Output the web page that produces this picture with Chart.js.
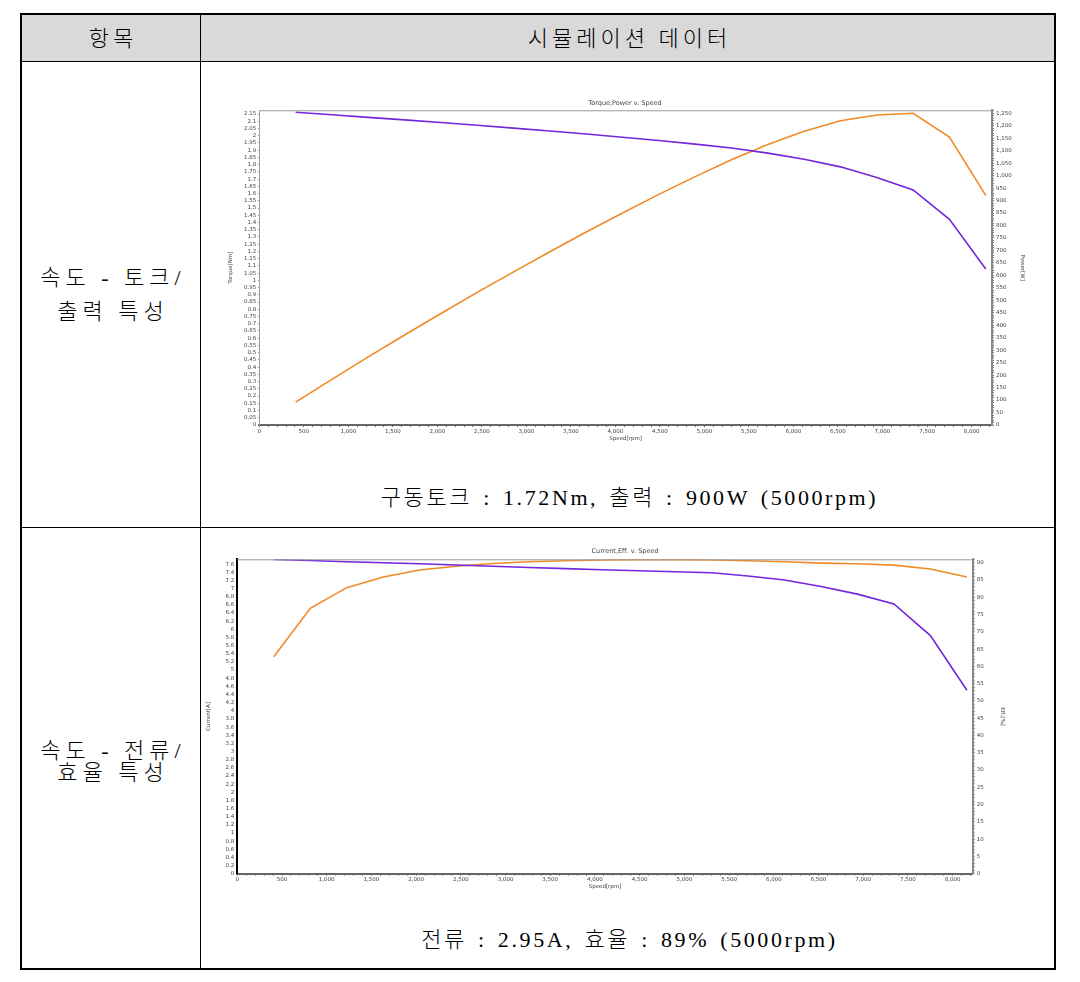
<!DOCTYPE html>
<html>
<head>
<meta charset="utf-8">
<script src="https://cdn.jsdelivr.net/npm/chart.js@4.4.1/dist/chart.umd.min.js"></script>
<style>
  html, body { margin: 0; padding: 0; background: #fff; }
  body { width: 1080px; height: 982px; position: relative; overflow: hidden;
         font-family: "Liberation Serif", "Noto Sans CJK KR", serif; color: #000; }
  .abs { position: absolute; }
  .hline { position: absolute; height: 1px; background: #000; }
  .vline { position: absolute; width: 1px; background: #000; }
  .cell { position: absolute; text-align: center; white-space: nowrap; }
  .kr { font-size: 22px; letter-spacing: 4px; line-height: 1; font-weight: 300; }
  .row { font-size: 22px; letter-spacing: 5px; word-spacing: 0; line-height: 1; font-weight: 300; }
  .cap { font-size: 22px; letter-spacing: 2.6px; word-spacing: 3px; line-height: 1; font-weight: 300; }
  canvas { position: absolute; }
</style>
</head>
<body>
  <!-- table frame -->
  <div class="abs" style="left:22px; top:15px; width:1032px; height:46px; background:#d9d9d9;"></div>
  <div class="abs" style="left:20px; top:13px; width:1036px; height:957px; border:2px solid #000; box-sizing:border-box;"></div>
  <div class="hline" style="left:22px; top:61px; width:1032px;"></div>
  <div class="hline" style="left:22px; top:527px; width:1032px;"></div>
  <div class="vline" style="left:200px; top:15px; height:953px;"></div>

  <div class="cell kr" style="left:24px; width:178px; top:28px;">항목</div>
  <div class="cell kr" style="left:203px; width:853px; top:28px;">시뮬레이션 데이터</div>

  <div class="cell row" style="left:24px; width:178px; top:267px;">속도 - 토크/</div>
  <div class="cell row" style="left:24px; width:178px; top:301px;">출력 특성</div>
  <div class="cell row" style="left:24px; width:178px; top:740px;">속도 - 전류/</div>
  <div class="cell row" style="left:24px; width:178px; top:762px;">효율 특성</div>

  <div class="cell cap" style="left:203px; width:853px; top:487px;">구동토크 : 1.72Nm, 출력 : 900W (5000rpm)</div>
  <div class="cell cap" style="left:203px; width:853px; top:929px;">전류 : 2.95A, 효율 : 89% (5000rpm)</div>

  <canvas id="c1" width="840" height="350" style="left:205px; top:96px;"></canvas>
  <canvas id="c2" width="840" height="355" style="left:205px; top:543px;"></canvas>

<script>
// ---------- data ----------
const speedRpm = [408, 816, 1224, 1632, 2040, 2448, 2856, 3264, 3672, 4080,
                  4488, 4896, 5304, 5712, 6120, 6528, 6936, 7344, 7752, 8160];

const torqueNm = [2.162, 2.145, 2.127, 2.110, 2.092, 2.073, 2.053, 2.033, 2.012, 1.990,
                  1.967, 1.942, 1.915, 1.880, 1.838, 1.785, 1.711, 1.625, 1.422, 1.078];

const powerW   = [92, 183, 273, 361, 447, 532, 614, 695, 774, 850,
                  925, 996, 1064, 1125, 1178, 1220, 1243, 1250, 1155, 921];

const currentA = [7.715, 7.69, 7.66, 7.635, 7.61, 7.58, 7.55, 7.52, 7.49, 7.465,
                  7.44, 7.415, 7.39, 7.31, 7.21, 7.05, 6.865, 6.626, 5.848, 4.506];

const effPct   = [62.8, 76.8, 82.8, 85.9, 87.9, 89.0, 89.8, 90.3, 90.6, 90.8,
                  90.9, 90.9, 90.8, 90.6, 90.3, 89.9, 89.7, 89.3, 88.2, 85.85];

const chart1Title = 'Torque,Power v. Speed';
const chart2Title = 'Current,Eff. v. Speed';
const xTitle = 'Speed[rpm]';
const torqueTitle = 'Torque[Nm]';
const powerTitle = 'Power[W]';
const currentTitle = 'Current[A]';
const effTitle = 'Eff.[%]';

// tick steps (major / minor)
const xStep = 500, xMinor = 100;

// ---------- styling ----------
const PURPLE = '#7326dc';
const ORANGE = '#f08a26';
const TICK_FONT = { family: 'DejaVu Sans', size: 5.5 };
const TITLE_FONT = { family: 'DejaVu Sans', size: 6.5, weight: 'normal' };
const TICK_COLOR = '#444';

const pts = (ys) => speedRpm.map((s, i) => ({ x: s, y: ys[i] }));
const fmtDec = (v) => String(Math.round(v * 100) / 100);
const fmtInt = (v) => Math.round(v).toLocaleString('en-US');
const isMajor = (v, step) => Math.abs(v / step - Math.round(v / step)) < 1e-6;

// regular tick builder: minor ticks carry no label
function stepTicks(max, minor) {
  return (scale) => {
    const out = [];
    const n = Math.floor(max / minor + 1e-9);
    for (let i = 0; i <= n; i++) out.push({ value: Math.round(i * minor * 10000) / 10000 });
    scale.ticks = out;
  };
}

const frame = () => ({
  id: 'frame',
  afterDatasetsDraw(chart) {
    const { ctx, chartArea: a } = chart;
    ctx.save();
    ctx.strokeStyle = '#9a9a9a';
    ctx.lineWidth = 1;
    ctx.beginPath();
    ctx.moveTo(a.left, a.top + 0.5);
    ctx.lineTo(a.right, a.top + 0.5);
    ctx.stroke();
    ctx.restore();
  }
});

function makeChart(id, cfg) {
  const m = cfg.margins;
  return new Chart(document.getElementById(id), {
    type: 'line',
    data: {
      datasets: [
        { label: cfg.aLabel, data: pts(cfg.aData), yAxisID: 'yL', borderColor: PURPLE,
          borderWidth: 1.6, pointRadius: 0, tension: 0, fill: false },
        { label: cfg.bLabel, data: pts(cfg.bData), yAxisID: 'yR', borderColor: ORANGE,
          borderWidth: 1.6, pointRadius: 0, tension: 0, fill: false }
      ]
    },
    options: {
      responsive: false,
      devicePixelRatio: 1,
      animation: false,
      events: [],
      layout: { padding: 0 },
      plugins: {
        legend: { display: false },
        tooltip: { enabled: false },
        title: { display: true, text: cfg.title, font: TITLE_FONT, color: '#444',
                 padding: { top: m.titleTop, bottom: m.top - m.titleTop - 6.5 * 1.2 } }
      },
      scales: {
        x: {
          type: 'linear', min: 0, max: cfg.xMax,
          afterBuildTicks: stepTicks(cfg.xMax, xMinor),
          ticks: { font: TICK_FONT, color: TICK_COLOR, maxRotation: 0, autoSkip: false, padding: 1,
                   callback: (v) => isMajor(v, xStep) ? fmtInt(v) : '' },
          grid: { drawOnChartArea: false, drawTicks: true, tickLength: 2, color: '#666' },
          border: { color: '#666', width: 2 },
          title: { display: true, text: xTitle, font: TICK_FONT, color: TICK_COLOR,
                   padding: { top: 0, bottom: m.xTitleBottom } },
          afterFit: (s) => { s.height = m.bottom; }
        },
        yL: {
          type: 'linear', position: 'left', min: 0, max: cfg.lMax,
          afterBuildTicks: stepTicks(cfg.lMax, cfg.lStep),
          ticks: { font: TICK_FONT, color: TICK_COLOR, autoSkip: false, padding: 2,
                   callback: (v) => fmtDec(v) },
          grid: { drawOnChartArea: false, drawTicks: true, tickLength: 1, color: '#777' },
          border: { color: cfg.lBorder, width: cfg.lBorderW },
          title: { display: true, text: cfg.lTitle, font: TICK_FONT, color: TICK_COLOR,
                   padding: { top: m.lTitlePad, bottom: 0 } },
          afterFit: (s) => { s.width = m.left; }
        },
        yR: {
          type: 'linear', position: 'right', min: 0, max: cfg.rMax,
          afterBuildTicks: stepTicks(cfg.rMax, cfg.rMinor),
          ticks: { font: TICK_FONT, color: TICK_COLOR, autoSkip: false, padding: 2,
                   callback: (v) => isMajor(v, cfg.rStep) ? cfg.rFmt(v) : '' },
          grid: { drawOnChartArea: false, drawTicks: true, tickLength: 2, color: '#777' },
          border: { color: '#888', width: 2 },
          title: { display: true, text: cfg.rTitle, font: TICK_FONT, color: TICK_COLOR,
                   padding: { top: m.rTitlePad, bottom: 0 } },
          afterFit: (s) => { s.width = m.right; }
        }
      }
    },
    plugins: [frame()]
  });
}

makeChart('c1', {
  title: chart1Title,
  aLabel: torqueTitle, aData: torqueNm,
  bLabel: powerTitle, bData: powerW,
  xMax: 8230,
  lMax: 2.176, lStep: 0.05, lTitle: torqueTitle, lBorder: '#a0a0a0', lBorderW: 1,
  rMax: 1262, rStep: 50, rMinor: 10, rTitle: powerTitle, rFmt: (v) => fmtInt(v),
  margins: { left: 54.3, right: 53, top: 14.3, bottom: 21, titleTop: 3,
             xTitleBottom: 4.5, lTitlePad: 21.8, rTitlePad: 19 }
});

makeChart('c2', {
  title: chart2Title,
  aLabel: currentTitle, aData: currentA,
  bLabel: effTitle, bData: effPct,
  xMax: 8225,
  lMax: 7.72, lStep: 0.2, lTitle: currentTitle, lBorder: '#000', lBorderW: 2,
  rMax: 91, rStep: 5, rMinor: 1, rTitle: effTitle, rFmt: (v) => String(Math.round(v)),
  margins: { left: 32.3, right: 72.3, top: 16.3, bottom: 24.3, titleTop: 4.5,
             xTitleBottom: 8.1, lTitlePad: 0, rTitlePad: 39 }
});
</script>
</body>
</html>
